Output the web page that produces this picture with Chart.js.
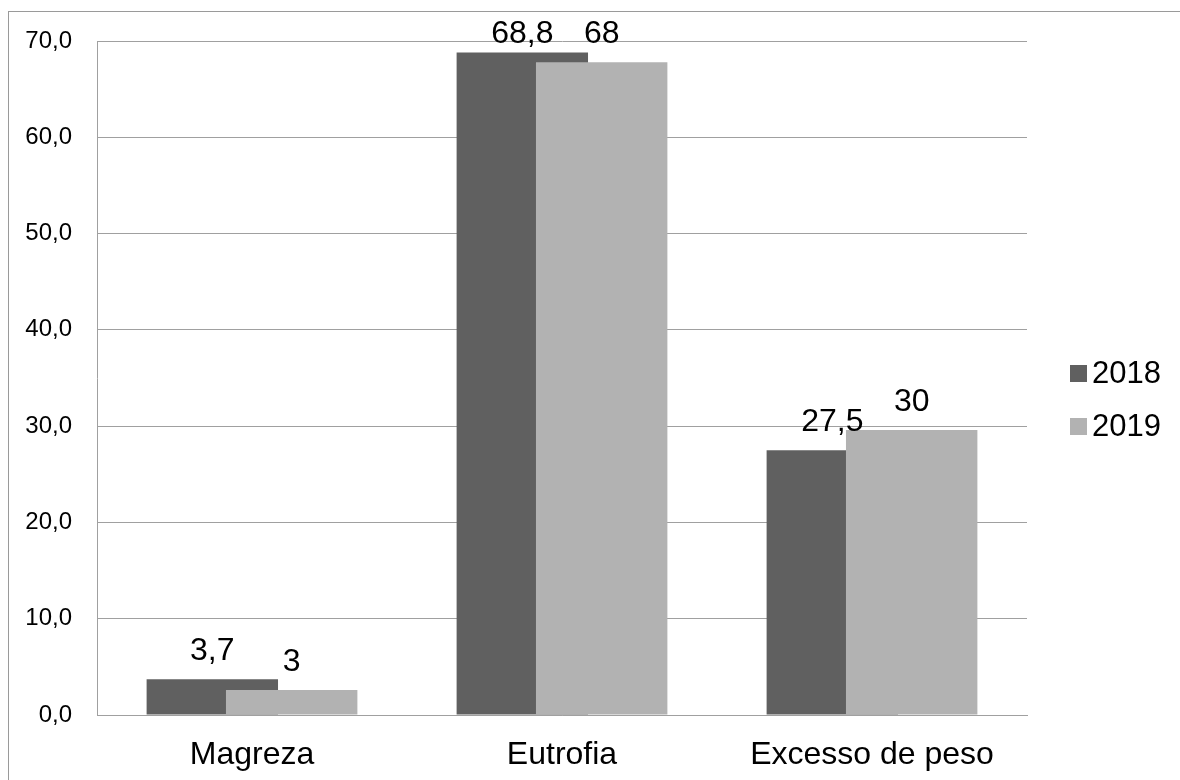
<!DOCTYPE html>
<html lang="pt">
<head>
  <meta charset="UTF-8">
  <title>Estado nutricional 2018 / 2019</title>
  <style>
    body, html {
      margin: 0;
      background: #ffffff;
    }
    #chart-container {
      width: 1180px;
      height: 780px;
    }
  </style>
</head>
<body>
  <div id="chart-container">
    <canvas id="nutriChart"></canvas>
  </div>

  <script src="https://cdn.jsdelivr.net/npm/chart.js"></script>
  <script>
    // data
    const categories = ['Magreza', 'Eutrofia', 'Excesso de peso'];
    const values2018 = [3.7, 68.8, 27.5];
    const values2019 = [2.6, 67.8, 29.6];
    const seriesNames = ['2018', '2019'];
    const labelDecimals = [1, 0]; // 2018 shown with one decimal, 2019 rounded
    const yTicks = [0, 10, 20, 30, 40, 50, 60, 70];

    const fmt = (v, d) => v.toFixed(d).replace('.', ',');

    // outer frame, only top and left edges are inside the picture
    const framePlugin = {
      id: 'frame',
      beforeDraw(chart) {
        const ctx = chart.ctx;
        ctx.save();
        ctx.strokeStyle = '#9a9a9a';
        ctx.lineWidth = 1;
        ctx.strokeRect(8.5, 11.5, chart.width + 20, chart.height + 20);
        ctx.restore();
      }
    };

    // 2019 bars sit on top of the 2018 ones, then value labels and legend
    const overlapPlugin = {
      id: 'overlap',
      beforeDatasetDraw(chart, args) {
        if (args.index === 1 && !chart.$topPass) return false;
      },
      afterDatasetsDraw(chart) {
        const ctx = chart.ctx;
        const area = chart.chartArea;
        const meta = chart.getDatasetMeta(1);
        chart.$topPass = true;
        ctx.save();
        ctx.beginPath();
        ctx.rect(area.left, area.top - 5, area.right - area.left, area.bottom - area.top + 5);
        ctx.clip();
        meta.controller.draw();
        ctx.restore();
        chart.$topPass = false;

        ctx.save();
        ctx.font = '32px "Liberation Sans", Arial, sans-serif';
        ctx.fillStyle = '#000000';
        ctx.textAlign = 'center';
        ctx.textBaseline = 'alphabetic';
        chart.data.datasets.forEach((ds, di) => {
          chart.getDatasetMeta(di).data.forEach((bar, i) => {
            const y = Math.max(bar.y - 19, area.top + 2);
            ctx.fillText(fmt(ds.data[i], labelDecimals[di]), bar.x, y);
          });
        });

        // legend
        ctx.font = '31px "Liberation Sans", Arial, sans-serif';
        ctx.textAlign = 'left';
        ctx.textBaseline = 'middle';
        chart.data.datasets.forEach((ds, di) => {
          const cy = 373 + di * 53;
          ctx.fillStyle = ds.backgroundColor;
          ctx.fillRect(area.right + 43, cy - 8, 17, 17);
          ctx.fillStyle = '#000000';
          ctx.fillText(ds.label, area.right + 65, cy + 1);
        });
        ctx.restore();
      }
    };

    Chart.defaults.font.family = '"Liberation Sans", Arial, sans-serif';
    Chart.defaults.color = '#000000';

    const ctx = document.getElementById('nutriChart').getContext('2d');
    new Chart(ctx, {
      type: 'bar',
      data: {
        labels: categories,
        datasets: [
          {
            label: seriesNames[0],
            data: values2018,
            backgroundColor: '#606060',
            categoryPercentage: 0.512,
            barPercentage: 1.656
          },
          {
            label: seriesNames[1],
            data: values2019,
            backgroundColor: '#b2b2b2',
            categoryPercentage: 0.512,
            barPercentage: 1.656
          }
        ]
      },
      options: {
        responsive: true,
        maintainAspectRatio: false,
        animation: false,
        layout: {
          padding: { left: 0, top: 41, right: 153, bottom: 0 }
        },
        scales: {
          x: {
            grid: { display: false },
            border: { display: true, color: '#a0a0a0' },
            ticks: {
              padding: 13,
              font: { size: 32 }
            },
            afterFit(scale) { scale.height = 65; }
          },
          y: {
            min: 0,
            max: 70,
            afterBuildTicks(scale) { scale.ticks = yTicks.map(v => ({ value: v })); },
            grid: { color: '#a0a0a0', drawTicks: false },
            border: { display: true, color: '#a0a0a0' },
            ticks: {
              padding: 25,
              font: { size: 24 },
              callback: v => fmt(v, 1)
            },
            afterFit(scale) { scale.width = 97; }
          }
        },
        plugins: {
          legend: { display: false },
          tooltip: { enabled: false }
        }
      },
      plugins: [framePlugin, overlapPlugin]
    });
  </script>
</body>
</html>
